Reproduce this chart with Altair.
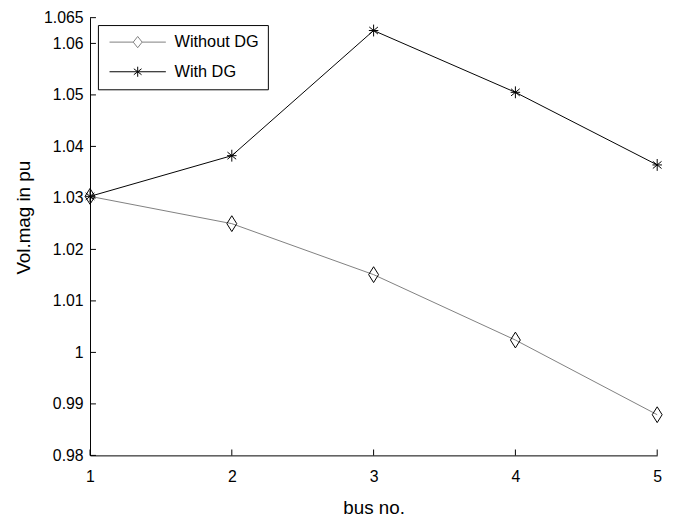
import altair as alt
import pandas as pd

# ---- data ----
BUS = [1, 2, 3, 4, 5]
WITHOUT_DG = [1.0303, 1.0250, 1.0151, 1.0024, 0.9879]
WITH_DG = [1.0303, 1.0382, 1.0625, 1.0505, 1.0364]
SERIES = ["Without DG", "With DG"]
X_TICKS = [1, 2, 3, 4, 5]
Y_TICKS = [0.98, 0.99, 1.0, 1.01, 1.02, 1.03, 1.04, 1.05, 1.06, 1.065]

rows = []
for name, vals in zip(SERIES, [WITHOUT_DG, WITH_DG]):
    for b, v in zip(BUS, vals):
        rows.append({"bus": b, "vol": v, "series": name})
df = pd.DataFrame(rows)

FONT = "Liberation Sans"
LINE_COLORS = ["#7f7f7f", "#000000"]
DIAMOND = "M0,-1L0.625,0L0,1L-0.625,0Z"
STAR = "M0,-0.75L0,0.75M-0.6,0L0.6,0M-0.55,-0.45L0.55,0.45M-0.55,0.45L0.55,-0.45"
LEG_DIAMOND = "M-4.75,0L-0.75,0M0.75,0L4.75,0M0,-0.95L0.75,0L0,0.95L-0.75,0Z"
LEG_STAR = "M-4.75,0L4.75,0M0,-0.85L0,0.85M-0.65,-0.5L0.65,0.5M-0.65,0.5L0.65,-0.5"

xs = alt.Scale(domain=[1, 5], nice=False, zero=False)
ys = alt.Scale(domain=[0.98, 1.065], nice=False, zero=False)

x_axis = alt.Axis(values=X_TICKS, title="bus no.", ticks=False, tickSize=0,
                  labelPadding=13, labelFontSize=16, labelFont=FONT, labelColor="black",
                  titleFontSize=19, titleFont=FONT, titleFontWeight="normal",
                  titleColor="black", titlePadding=15, domainColor="black",
                  domainWidth=1, grid=False, labelFlush=False)
y_axis = alt.Axis(values=Y_TICKS, format=".3~f", title="Vol.mag in pu", ticks=False,
                  tickSize=0, labelPadding=7, labelFontSize=16, labelFont=FONT,
                  labelColor="black", titleFontSize=19, titleFont=FONT,
                  titleFontWeight="normal", titleColor="black", titlePadding=10,
                  titleY=202, domainColor="black", domainWidth=1, grid=False,
                  labelFlush=False)

x_enc = alt.X("bus:Q", scale=xs, axis=x_axis)
y_enc = alt.Y("vol:Q", scale=ys, axis=y_axis)

base = alt.Chart(df)

lines = base.mark_line(strokeWidth=1).encode(
    x=x_enc, y=y_enc,
    color=alt.Color("series:N", scale=alt.Scale(domain=SERIES, range=LINE_COLORS), legend=None),
    detail="series:N",
)

points = base.mark_point(filled=False, size=256, strokeWidth=1, color="black", opacity=1).encode(
    x=x_enc, y=y_enc,
    shape=alt.Shape("series:N", scale=alt.Scale(domain=SERIES, range=[DIAMOND, STAR]), legend=None),
)

leg = alt.Legend(title=None, orient="none", legendX=8, legendY=7.5, padding=9,
                 strokeColor="black", fillColor="white", symbolSize=144,
                 symbolStrokeWidth=1, symbolOffset=23, labelOffset=29, rowPadding=13,
                 labelFontSize=16.5, labelFont=FONT, labelColor="black", labelLimit=300,
                 cornerRadius=0)

legend_layer = base.transform_filter("datum.bus < 0").mark_point(
    filled=False, strokeWidth=1, opacity=1
).encode(
    x=x_enc, y=y_enc,
    shape=alt.Shape("series:N", scale=alt.Scale(domain=SERIES, range=[LEG_DIAMOND, LEG_STAR]), legend=leg),
    color=alt.Color("series:N", scale=alt.Scale(domain=SERIES, range=LINE_COLORS), legend=leg),
)

yticks = alt.Chart(pd.DataFrame({"v": Y_TICKS})).mark_tick(
    orient="horizontal", size=6, thickness=1, xOffset=3, color="black", opacity=1
).encode(
    y=alt.Y("v:Q", scale=ys, axis=y_axis),
    x=alt.XDatum(1, scale=xs, axis=x_axis),
)

xticks = alt.Chart(pd.DataFrame({"t": X_TICKS})).mark_tick(
    orient="vertical", size=6, thickness=1, yOffset=-3, color="black", opacity=1
).encode(
    x=alt.X("t:Q", scale=xs, axis=x_axis),
    y=alt.YDatum(0.98, scale=ys, axis=y_axis),
)

chart = alt.layer(yticks, xticks, lines, points, legend_layer).resolve_scale(
    shape="independent", color="independent"
).properties(
    width=574, height=443,
    autosize=alt.AutoSizeParams(type="none"),
    padding={"left": 83, "top": 6.7, "right": 16, "bottom": 62},
    background="white",
).configure_view(stroke=None)

chart.save("out.html", embed_options={"renderer": "svg", "actions": False})
